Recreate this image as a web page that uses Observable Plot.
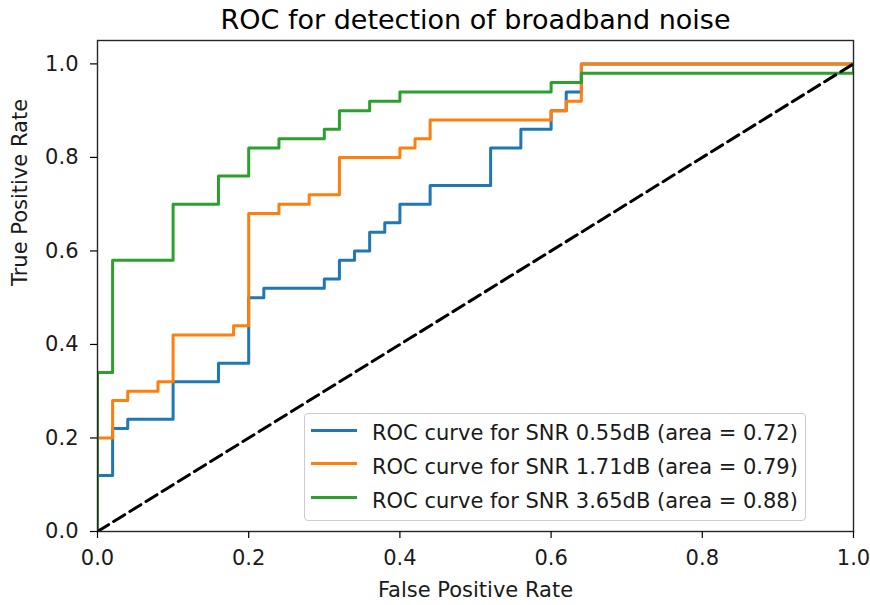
<!DOCTYPE html>
<html>
<head>
<meta charset="utf-8">
<script src="https://cdn.jsdelivr.net/npm/d3@7"></script>
<script src="https://cdn.jsdelivr.net/npm/@observablehq/plot@0.6"></script>
<style>
  body { margin: 0; background: #fff; font-family: "DejaVu Sans", sans-serif; }
  #wrap { position: relative; width: 870px; height: 605px; overflow: hidden; }
  .legend { position: absolute; left: 304px; top: 413px; width: 502px; height: 108px;
            border: 1.5px solid #cccccc; border-radius: 4px; background: rgba(255,255,255,0.8);
            box-sizing: border-box; }
  .sw { position: absolute; left: 6px; width: 46px; height: 3px; }
  .lt { position: absolute; left: 67px; font-size: 21px; line-height: 21px; white-space: nowrap; color: #1a1a1a; }
</style>
</head>
<body>
<div id="wrap"></div>
<script>
const title = "ROC for detection of broadband noise";
const xLabel = "False Positive Rate";
const yLabel = "True Positive Rate";
const xTicks = [0, 0.2, 0.4, 0.6, 0.8, 1.0];
const yTicks = [0, 0.2, 0.4, 0.6, 0.8, 1.0];

const seriesNames = [
  "ROC curve for SNR 0.55dB (area = 0.72)",
  "ROC curve for SNR 1.71dB (area = 0.79)",
  "ROC curve for SNR 3.65dB (area = 0.88)"
];
const seriesColors = ["#1f77b4", "#ff7f0e", "#2ca02c"];

const fprA = [0, 0, 0.02, 0.04, 0.10, 0.16, 0.20, 0.22, 0.30, 0.32, 0.34, 0.36, 0.38, 0.40, 0.44, 0.52, 0.56, 0.60, 0.62, 0.64, 1.0];
const tprA = [0, 0.12, 0.22, 0.24, 0.32, 0.36, 0.50, 0.52, 0.54, 0.58, 0.60, 0.64, 0.66, 0.70, 0.74, 0.82, 0.86, 0.90, 0.94, 1.00, 1.00];

const fprB = [0, 0, 0.02, 0.04, 0.08, 0.10, 0.18, 0.20, 0.24, 0.28, 0.32, 0.40, 0.42, 0.44, 0.60, 0.62, 0.64, 1.0];
const tprB = [0, 0.20, 0.28, 0.30, 0.32, 0.42, 0.44, 0.68, 0.70, 0.72, 0.80, 0.82, 0.84, 0.88, 0.90, 0.92, 1.00, 1.00];

const fprC = [0, 0, 0.02, 0.10, 0.16, 0.20, 0.24, 0.30, 0.32, 0.36, 0.40, 0.60, 0.64, 1.0, 1.0];
const tprC = [0, 0.34, 0.58, 0.70, 0.76, 0.82, 0.84, 0.86, 0.90, 0.92, 0.94, 0.96, 0.98, 0.98, 1.00];

const chanceX = [0, 1];
const chanceY = [0, 1];

const series = [[fprA, tprA], [fprB, tprB], [fprC, tprC]];
const rows = series.flatMap(([fx, ty], k) => fx.map((x, i) => ({x, y: ty[i], s: seriesNames[k]})));
const chance = chanceX.map((x, i) => ({x, y: chanceY[i]}));

const chart = Plot.plot({
  width: 870,
  height: 605,
  marginLeft: 97,
  marginRight: 17,
  marginTop: 40,
  marginBottom: 74,
  style: { fontFamily: "DejaVu Sans, sans-serif", background: "#fff", color: "#000" },
  x: { domain: [0, 1], label: null },
  y: { domain: [0, 1.05], label: null },
  color: { domain: seriesNames, range: seriesColors },
  marks: [
    Plot.line(rows, { x: "x", y: "y", z: "s", stroke: "s", curve: "step-after", strokeWidth: 3, clip: true }),
    Plot.line(chance, { x: "x", y: "y", stroke: "#000", strokeWidth: 3, strokeDasharray: "13,6", clip: true }),
    Plot.frame({ stroke: "#262626", strokeWidth: 1.4 }),
    Plot.axisX({ ticks: xTicks, tickFormat: d3.format(".1f"), tickSize: 7, tickPadding: 12, fontSize: 21, label: null, stroke: "#000", strokeWidth: 1.2, fill: "#1a1a1a" }),
    Plot.axisY({ ticks: yTicks, tickFormat: d3.format(".1f"), tickSize: 7, tickPadding: 12, fontSize: 21, label: null, stroke: "#000", strokeWidth: 1.2, fill: "#1a1a1a" }),
    Plot.text([title], { text: d => d, frameAnchor: "top", lineAnchor: "bottom", dy: -12, fontSize: 27, fill: "#000" }),
    Plot.text([xLabel], { text: d => d, frameAnchor: "bottom", lineAnchor: "bottom", dy: 65, fontSize: 21, fill: "#1a1a1a" }),
    Plot.text([yLabel], { text: d => d, frameAnchor: "left", rotate: -90, dx: -77, fontSize: 21, fill: "#1a1a1a" })
  ]
});

const wrap = document.getElementById("wrap");
wrap.appendChild(chart);

const legend = document.createElement("div");
legend.className = "legend";
seriesNames.forEach((name, i) => {
  const sw = document.createElement("div");
  sw.className = "sw";
  sw.style.top = (14.5 + i * 33.8) + "px";
  sw.style.background = seriesColors[i];
  legend.appendChild(sw);
  const t = document.createElement("div");
  t.className = "lt";
  t.style.top = (8.9 + i * 33.8) + "px";
  t.textContent = name;
  legend.appendChild(t);
});
wrap.appendChild(legend);
</script>
</body>
</html>
